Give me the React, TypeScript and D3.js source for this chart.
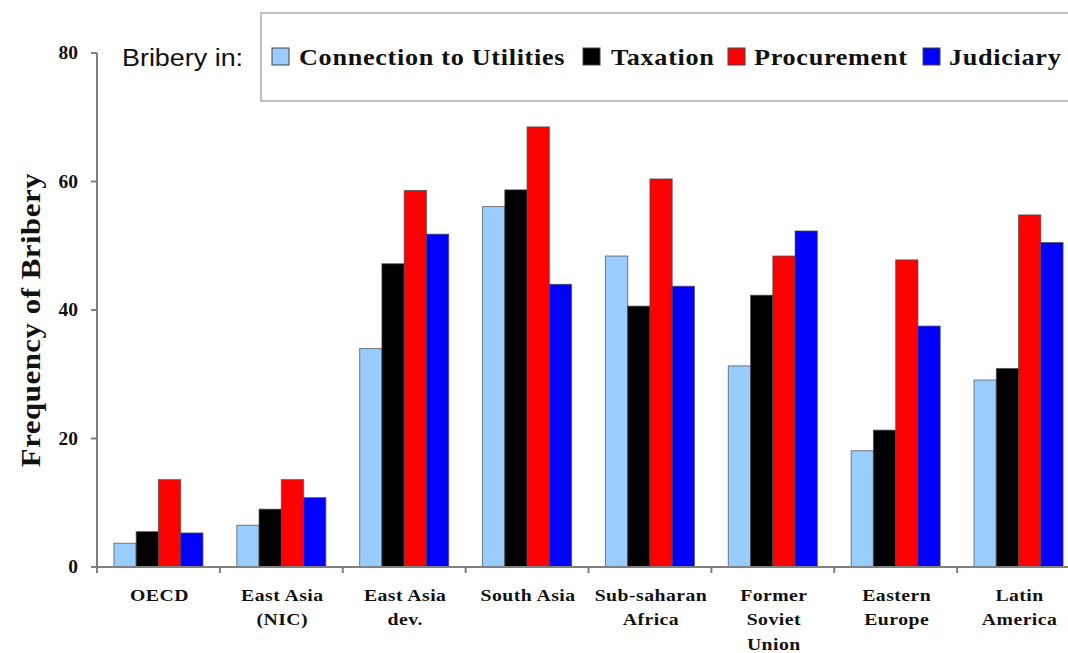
import React from "react";
import * as d3 from "d3";

const categories = [
  ["OECD"],
  ["East Asia", "(NIC)"],
  ["East Asia", "dev."],
  ["South Asia"],
  ["Sub-saharan", "Africa"],
  ["Former", "Soviet", "Union"],
  ["Eastern", "Europe"],
  ["Latin", "America"],
];
const seriesNames = ["Connection to Utilities", "Taxation", "Procurement", "Judiciary"];
const seriesColors = ["#99CCFF", "#000000", "#FF0000", "#0000FF"];
const utilities = [3.7, 6.5, 34.0, 56.1, 48.4, 31.3, 18.1, 29.1];
const taxation = [5.5, 9.0, 47.2, 58.7, 40.6, 42.3, 21.3, 30.9];
const procurement = [13.6, 13.6, 58.6, 68.5, 60.4, 48.4, 47.8, 54.8];
const judiciary = [5.3, 10.8, 51.8, 44.0, 43.7, 52.3, 37.5, 50.5];
const yTicks = [0, 20, 40, 60, 80];

const seriesValues = [utilities, taxation, procurement, judiciary];

export default function App() {
  const W = 1068, H = 653;
  const x0 = 97, x1 = 1080, yTop = 53, yBot = 567;
  const keys = categories.map((c) => c.join(" "));
  const x = d3.scaleBand().domain(keys).range([x0, x1]).padding(0);
  const xs = d3
    .scaleBand()
    .domain(seriesNames)
    .range([0, x.bandwidth()])
    .paddingInner(0)
    .paddingOuter(0.76);
  const y = d3.scaleLinear().domain([0, 80]).range([yBot, yTop]);
  const serif = "'Liberation Serif', 'Times New Roman', serif";
  const sans = "'Liberation Sans', Arial, sans-serif";
  const axisColor = "#808080";
  const sx = 1.14;

  const legendPos = [
    { sq: 272, tx: 299 },
    { sq: 583, tx: 611 },
    { sq: 728, tx: 754 },
    { sq: 923, tx: 949 },
  ];

  return (
    <svg
      width={W}
      height={H}
      style={{ position: "absolute", left: 0, top: 0, background: "#fff" }}
    >
      {/* bars */}
      {keys.map((k, i) => (
        <g key={k} transform={`translate(${x(k)},0)`}>
          {seriesNames.map((s, j) => {
            const v = seriesValues[j][i];
            return (
              <rect
                key={s}
                x={xs(s)}
                y={y(v)}
                width={xs.bandwidth()}
                height={yBot - y(v)}
                fill={seriesColors[j]}
                stroke="#4a4a4a"
                strokeWidth={1}
                strokeOpacity={0.7}
              />
            );
          })}
        </g>
      ))}

      {/* y axis */}
      <line x1={x0} x2={x0} y1={yTop} y2={yBot} stroke={axisColor} strokeWidth={2} />
      {yTicks.map((t) => (
        <g key={t}>
          <line x1={x0 - 6} x2={x0} y1={y(t)} y2={y(t)} stroke={axisColor} strokeWidth={2} />
          <text
            transform={`translate(78,${y(t)}) scale(1.08,1)`}
            dy="0.35em"
            textAnchor="end"
            fontFamily={serif}
            fontWeight="bold"
            fontSize={18}
            fill="#111"
          >
            {t}
          </text>
        </g>
      ))}

      {/* x axis */}
      <line x1={x0} x2={x1} y1={yBot} y2={yBot} stroke={axisColor} strokeWidth={2} />
      {keys.map((k) => (
        <line
          key={k}
          x1={x(k)}
          x2={x(k)}
          y1={yBot}
          y2={yBot + 6}
          stroke={axisColor}
          strokeWidth={2}
        />
      ))}
      {categories.map((lines, i) => {
        const cx = (x(keys[i]) as number) + x.bandwidth() / 2 + 1;
        return (
          <g key={i} transform={`translate(${cx},601) scale(1.16,1)`}>
            <text
              textAnchor="middle"
              fontFamily={serif}
              fontWeight="bold"
              fontSize={17}
              letterSpacing={0.4}
              fill="#111"
            >
              {lines.map((l, li) => (
                <tspan key={li} x={0} dy={li === 0 ? 0 : 24.5}>
                  {l}
                </tspan>
              ))}
            </text>
          </g>
        );
      })}

      {/* y label */}
      <text
        transform={`translate(40,${(yTop + yBot) / 2 + 10}) rotate(-90) scale(1.1,1)`}
        textAnchor="middle"
        fontFamily={serif}
        fontWeight="bold"
        fontSize={28}
        letterSpacing={0.5}
        fill="#111"
      >
        Frequency of Bribery
      </text>

      {/* legend */}
      <text
        transform={`translate(122,66) scale(1.17,1)`}
        fontFamily={sans}
        fontSize={23}
        fill="#111"
      >
        Bribery in:
      </text>
      <rect x={261} y={13} width={830} height={88} fill="none" stroke="#c0c0c0" strokeWidth={2} />
      {seriesNames.map((s, j) => (
        <g key={s}>
          <rect
            x={legendPos[j].sq}
            y={48}
            width={17}
            height={17}
            fill={seriesColors[j]}
            stroke="#444"
            strokeWidth={1}
          />
          <text
            transform={`translate(${legendPos[j].tx},65) scale(${sx},1)`}
            fontFamily={serif}
            fontWeight="bold"
            fontSize={23}
            letterSpacing={0.6}
            fill="#111"
          >
            {s}
          </text>
        </g>
      ))}
    </svg>
  );
}
